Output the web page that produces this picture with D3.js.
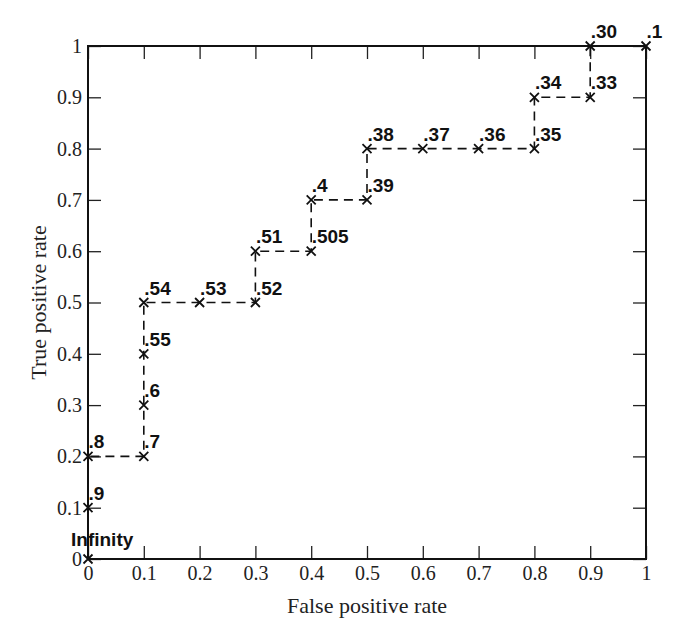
<!DOCTYPE html>
<html><head><meta charset="utf-8">
<script src="https://cdn.jsdelivr.net/npm/d3@7"></script>
<style>body{margin:0;background:#fff}</style>
</head><body>
<svg id="c" width="691" height="628"></svg>
<script>
const fpr = [0,0,0,0.1,0.1,0.1,0.1,0.2,0.3,0.3,0.4,0.4,0.5,0.5,0.6,0.7,0.8,0.8,0.9,0.9,1.0];
const tpr = [0,0.1,0.2,0.2,0.3,0.4,0.5,0.5,0.5,0.6,0.6,0.7,0.7,0.8,0.8,0.8,0.8,0.9,0.9,1.0,1.0];
const thresholds = ["Infinity",".9",".8",".7",".6",".55",".54",".53",".52",".51",".505",".4",".39",".38",".37",".36",".35",".34",".33",".30",".1"];
const tickValues = [0,0.1,0.2,0.3,0.4,0.5,0.6,0.7,0.8,0.9,1];
const tickLabels = ["0","0.1","0.2","0.3","0.4","0.5","0.6","0.7","0.8","0.9","1"];

const svg = d3.select("#c");
const L=88,R=646,T=46,B=559;
const x = d3.scaleLinear().domain([0,1]).range([L,R]);
const y = d3.scaleLinear().domain([0,1]).range([B,T]);
const fmt = (d,i)=>tickLabels[i];
const tl = 13;

const serif = "'Liberation Serif','Times New Roman',serif";
function styleAxis(g, showText){
  g.select(".domain").remove();
  g.selectAll("line").attr("stroke","#222").attr("stroke-width",1.3);
  g.selectAll("text").attr("font-family",serif).attr("font-size",20).attr("fill","#222");
  if(!showText) g.selectAll("text").remove();
}
svg.append("g").attr("transform",`translate(0,${B})`)
  .call(d3.axisBottom(x).tickValues(tickValues).tickFormat(fmt).tickSizeInner(-tl).tickSizeOuter(0).tickPadding(7))
  .call(g=>styleAxis(g,true));
svg.append("g").attr("transform",`translate(0,${T})`)
  .call(d3.axisTop(x).tickValues(tickValues).tickFormat(fmt).tickSizeInner(-tl).tickSizeOuter(0))
  .call(g=>styleAxis(g,false));
svg.append("g").attr("transform",`translate(${L},0)`)
  .call(d3.axisLeft(y).tickValues(tickValues).tickFormat(fmt).tickSizeInner(-tl).tickSizeOuter(0).tickPadding(6))
  .call(g=>styleAxis(g,true));
svg.append("g").attr("transform",`translate(${R},0)`)
  .call(d3.axisRight(y).tickValues(tickValues).tickFormat(fmt).tickSizeInner(-tl).tickSizeOuter(0))
  .call(g=>styleAxis(g,false));

svg.append("rect").attr("x",L).attr("y",T).attr("width",R-L).attr("height",B-T)
  .attr("fill","none").attr("stroke","#111").attr("stroke-width",2);

const pts = fpr.map((f,i)=>({f,t:tpr[i],lab:thresholds[i]}));
svg.append("path").datum(pts)
  .attr("d", d3.line().x(d=>x(d.f)).y(d=>y(d.t)))
  .attr("fill","none").attr("stroke","#111").attr("stroke-width",1.6).attr("stroke-dasharray","9,6");

const s=4.5;
svg.append("g").selectAll("path").data(pts).join("path")
  .attr("d",d=>{const cx=x(d.f),cy=y(d.t);return `M${cx-s},${cy-s}L${cx+s},${cy+s}M${cx-s},${cy+s}L${cx+s},${cy-s}`;})
  .attr("stroke","#111").attr("stroke-width",1.8).attr("fill","none");

svg.append("g").selectAll("text").data(pts).join("text")
  .attr("x",d=>d.lab==="Infinity"? x(d.f)-17 : x(d.f)+0.5)
  .attr("y",d=>d.lab==="Infinity"? y(d.t)-13 : y(d.t)-8)
  .attr("font-family","'Liberation Sans',Arial,Helvetica,sans-serif")
  .attr("font-weight","bold").attr("font-size",19).attr("fill","#111")
  .text(d=>d.lab);

svg.append("text").attr("x",(L+R)/2).attr("y",613).attr("text-anchor","middle")
  .attr("font-family",serif).attr("font-size",22).attr("fill","#222").text("False positive rate");
svg.append("text").attr("transform",`translate(46,${(T+B)/2}) rotate(-90)`).attr("text-anchor","middle")
  .attr("font-family",serif).attr("font-size",22).attr("fill","#222").text("True positive rate");
</script>
</body></html>
